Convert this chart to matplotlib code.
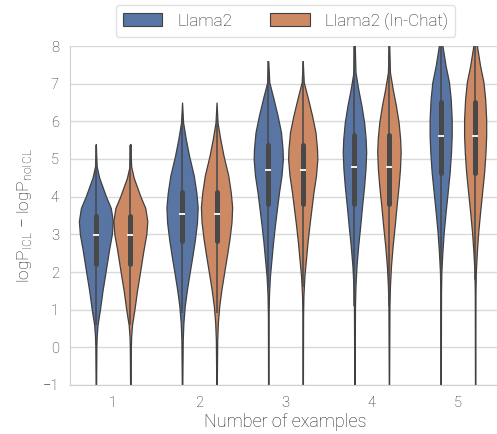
import matplotlib
matplotlib.use("Agg")
import matplotlib.pyplot as plt
from matplotlib.patches import Patch
import numpy as np

plt.rcParams['font.family'] = ['Roboto', 'DejaVu Sans']
plt.rcParams['font.weight'] = 'light'
plt.rcParams['axes.labelweight'] = 'light'
plt.rcParams['mathtext.fontset'] = 'custom'
plt.rcParams['mathtext.rm'] = 'Roboto:light'

# categories / series
groups = ["1", "2", "3", "4", "5"]
series = ["Llama2", "Llama2 (In-Chat)"]
colors = ["#5875A4", "#CC8963"]   # seaborn deep, desaturated like violinplot does

# violin outlines: value levels and relative density (peak of group 1 = 1)
levels = [
    [-1.5, -1.0, 0.0, 0.3, 0.6, 1.0, 1.5, 2.0, 2.6, 3.0, 3.35, 3.7, 4.0, 4.5, 4.8, 5.1, 5.4],
    [-1.5, -1.0, 0.21, 0.66, 1.1, 1.54, 1.99, 2.43, 2.87, 3.32, 3.72, 4.11, 4.56, 5.09, 5.53, 5.97, 6.5],
    [-1.5, -1.0, 0.84, 1.37, 1.9, 2.34, 2.78, 3.23, 3.67, 4.11, 4.56, 5.0, 5.27, 5.71, 6.15, 6.6, 7.04, 7.6],
    [-1.5, -1.0, 1.1, 1.63, 2.16, 2.7, 3.23, 3.76, 4.29, 4.74, 5.18, 5.53, 5.97, 6.42, 6.86, 7.3, 8.3],
    [-1.5, -1.0, 1.45, 1.99, 2.52, 3.05, 3.58, 4.11, 4.65, 5.18, 5.62, 6.06, 6.6, 7.04, 7.48, 8.02, 8.5, 9.0],
]
density = [
    [0.01, 0.015, 0.03, 0.05, 0.1, 0.24, 0.39, 0.57, 0.78, 0.94, 1.0, 0.88, 0.6, 0.2, 0.05, 0.02, 0.0],
    [0.01, 0.015, 0.04, 0.08, 0.16, 0.29, 0.45, 0.61, 0.76, 0.88, 0.92, 0.84, 0.69, 0.41, 0.22, 0.06, 0.0],
    [0.01, 0.01, 0.02, 0.04, 0.1, 0.19, 0.28, 0.39, 0.51, 0.63, 0.78, 0.86, 0.84, 0.75, 0.55, 0.31, 0.06, 0.0],
    [0.01, 0.01, 0.03, 0.06, 0.12, 0.22, 0.34, 0.45, 0.57, 0.65, 0.69, 0.66, 0.57, 0.41, 0.22, 0.06, 0.0],
    [0.01, 0.01, 0.02, 0.04, 0.1, 0.18, 0.29, 0.41, 0.53, 0.61, 0.65, 0.65, 0.59, 0.49, 0.29, 0.1, 0.05, 0.0],
]

# inner box stats (same for both series as far as the picture shows)
q1 = [2.21, 2.83, 3.80, 3.80, 4.63]
med = [2.98, 3.54, 4.72, 4.79, 5.61]
q3 = [3.48, 4.13, 5.38, 5.64, 6.52]
whislo = [0.60, 0.90, 1.60, 1.10, 1.80]
whishi = [5.37, 6.10, 7.60, 8.30, 9.30]

edge = "#404040"
boxc = "#484848"
txt = "#222222"

fig = plt.figure(figsize=(4.97, 4.34), dpi=100)
ax = fig.add_axes([70 / 497, 1 - 385 / 434, 431 / 497, 339 / 434])

for i in range(len(groups)):
    y = np.array(levels[i])
    d = np.array(density[i]) * 0.197
    for j in range(len(series)):
        pos = i + (j - 0.5) * 0.4
        ax.fill_betweenx(y, pos - d, pos + d, facecolor=colors[j], edgecolor=edge,
                         linewidth=0.9, zorder=2)
        ax.plot([pos, pos], [whislo[i], whishi[i]], color=boxc, lw=1.1, zorder=3,
                solid_capstyle="butt")
        ax.plot([pos, pos], [q1[i], q3[i]], color=boxc, lw=3.6, zorder=3,
                solid_capstyle="round")
        ax.plot([pos], [med[i]], marker="_", color="#f2f2f2", ms=4, mew=1.4, zorder=4)

ax.set_xlim(-0.5, 4.5)
ax.set_ylim(-1, 8)
ax.set_xticks(range(len(groups)))
ax.set_xticklabels(groups)
ax.set_yticks(range(-1, 9))
ax.tick_params(length=0, labelsize=10.5, colors=txt, pad=8)
ax.yaxis.grid(True, color="#d9d9d9", lw=1)
ax.set_axisbelow(True)
for s in ax.spines.values():
    s.set_color("#d0d0d0")
ax.spines["top"].set_visible(False)

ax.set_xlabel("Number of examples", fontsize=13, color=txt, labelpad=2)
ax.set_ylabel(r"logP$_\mathrm{ICL}$ $-$ logP$_\mathrm{noICL}$", fontsize=12.5,
              color=txt, labelpad=6)

handles = [Patch(facecolor=c, edgecolor=edge, linewidth=0.8) for c in colors]
leg = ax.legend(handles, series, loc="lower center", bbox_to_anchor=(0.5, 1.027), ncol=2,
                fontsize=12.3, frameon=True, edgecolor="#d9d9d9", handlelength=2.3,
                handleheight=0.8, columnspacing=2.2, handletextpad=0.9, borderpad=0.42,
                borderaxespad=0)
for t in leg.get_texts():
    t.set_color(txt)

fig.savefig("out.png", dpi=100)
